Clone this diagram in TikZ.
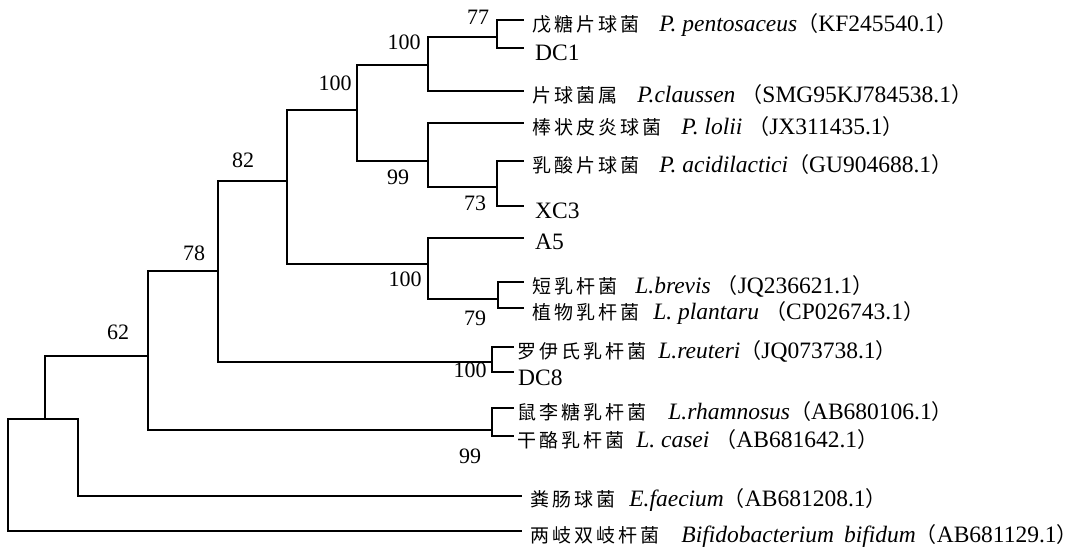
\documentclass[tikz,border=0pt]{standalone}
\usepackage{fontspec}
\setmainfont{Liberation Serif}
\newfontfamily\cjk[LetterSpace=16]{Noto Sans CJK SC}
\newfontfamily\cjkp{Noto Sans CJK SC}
\newcommand{\cn}[1]{{\fontsize{19}{22}\selectfont\cjk #1}}
\newcommand{\acc}[1]{{\fontsize{21}{24}\selectfont\cjkp （}#1{\fontsize{21}{24}\selectfont\cjkp ）}}
\begin{document}
\begin{tikzpicture}[x=1pt,y=-1pt,
  br/.style={line width=1.6pt,line cap=rect},
  bs/.style={inner sep=0pt,font=\fontsize{22}{26}\selectfont},
  lf/.style={inner sep=0pt,anchor=base west,font=\fontsize{23.5}{27}\selectfont}]
\useasboundingbox (0,0) rectangle (1080,547);
% leaf ends
\coordinate (l1) at (523,20);
\coordinate (l2) at (523,48);
\coordinate (l3) at (523,91);
\coordinate (l4) at (523,123);
\coordinate (l5) at (523,161);
\coordinate (l6) at (523,206);
\coordinate (l7) at (523,238);
\coordinate (l8) at (523,282);
\coordinate (l9) at (523,308);
\coordinate (l10) at (513,347);
\coordinate (l11) at (513,372);
\coordinate (l12) at (513,408);
\coordinate (l13) at (513,436);
\coordinate (l14) at (521,496);
\coordinate (l15) at (521,531);
% internal nodes
\coordinate (n77) at (497,37);
\coordinate (n100a) at (428,65);
\coordinate (n73) at (497,187);
\coordinate (n99a) at (428,161);
\coordinate (n100b) at (357,110);
\coordinate (n79) at (498,299);
\coordinate (n100c) at (428,264);
\coordinate (n82) at (287,181);
\coordinate (n100d) at (492,362);
\coordinate (n78) at (218,271);
\coordinate (n99b) at (492,430);
\coordinate (n62) at (148,356);
\coordinate (nA) at (45,419);
\coordinate (nEf) at (78,419);
\coordinate (nroot) at (8,419);
% branches
\draw[br] (l1) -| (n77) |- (l2);
\draw[br] (n77) -| (n100a) |- (l3);
\draw[br] (l5) -| (n73) |- (l6);
\draw[br] (l4) -| (n99a) |- (n73);
\draw[br] (n100a) -| (n100b) |- (n99a);
\draw[br] (l8) -| (n79) |- (l9);
\draw[br] (l7) -| (n100c) |- (n79);
\draw[br] (n100b) -| (n82) |- (n100c);
\draw[br] (l10) -| (n100d) |- (l11);
\draw[br] (n82) -| (n78) |- (n100d);
\draw[br] (l12) -| (n99b) |- (l13);
\draw[br] (n78) -| (n62) |- (n99b);
\draw[br] (n62) -| (nA);
\draw[br] (nroot) -- (nEf) |- (l14);
\draw[br] (nroot) |- (l15);
% bootstrap values
\node[bs] (b77) at (478,17) {77};
\node[bs] (b100a) at (404,42) {100};
\node[bs] (b100b) at (335,83) {100};
\node[bs] (b82) at (243,160) {82};
\node[bs] (b99a) at (398,177) {99};
\node[bs] (b73) at (475,203) {73};
\node[bs] (b78) at (194,253) {78};
\node[bs] (b100c) at (405,279) {100};
\node[bs] (b79) at (475,318) {79};
\node[bs] (b62) at (118,332) {62};
\node[bs] (b100d) at (470,370) {100};
\node[bs] (b99b) at (470,456) {99};
% leaf labels
\node[lf] (t1) at (532,31) {\cn{戊糖片球菌}\hspace{20pt}\textit{P. pentosaceus}\acc{KF245540.1}};
\node[lf] (t2) at (535,60) {DC1};
\node[lf] (t3) at (532,102) {\cn{片球菌属}\hspace{20pt}\textit{P.claussen}\hspace{6pt}\acc{SMG95KJ784538.1}};
\node[lf] (t4) at (532,134) {\cn{棒状皮炎球菌}\hspace{20pt}\textit{P. lolii}\hspace{6pt}\acc{JX311435.1}};
\node[lf] (t5) at (532,172) {\cn{乳酸片球菌}\hspace{20pt}\textit{P. acidilactici}\acc{GU904688.1}};
\node[lf] (t6) at (535,218) {XC3};
\node[lf] (t7) at (535,249) {A5};
\node[lf] (t8) at (532,293) {\cn{短乳杆菌}\hspace{18pt}\textit{L.brevis}\hspace{6pt}\acc{JQ236621.1}};
\node[lf] (t9) at (532,319) {\cn{植物乳杆菌}\hspace{14pt}\textit{L. plantaru}\hspace{6pt}\acc{CP026743.1}};
\node[lf] (t10) at (517,358) {\cn{罗伊氏乳杆菌}\hspace{12pt}\textit{L.reuteri}\acc{JQ073738.1}};
\node[lf] (t11) at (518,385) {DC8};
\node[lf] (t12) at (517,419) {\cn{鼠李糖乳杆菌}\hspace{22pt}\textit{L.rhamnosus}\acc{AB680106.1}};
\node[lf] (t13) at (517,447) {\cn{干酪乳杆菌}\hspace{12pt}\textit{L. casei}\hspace{6pt}\acc{AB681642.1}};
\node[lf] (t14) at (530,506) {\cn{粪肠球菌}\hspace{14pt}\textit{E.faecium}\acc{AB681208.1}};
\node[lf] (t15) at (530,542) {\cn{两岐双岐杆菌}\hspace{22pt}\textit{Bifidobacterium\hspace{4pt} bifidum}\acc{AB681129.1}};
\end{tikzpicture}
\end{document}
